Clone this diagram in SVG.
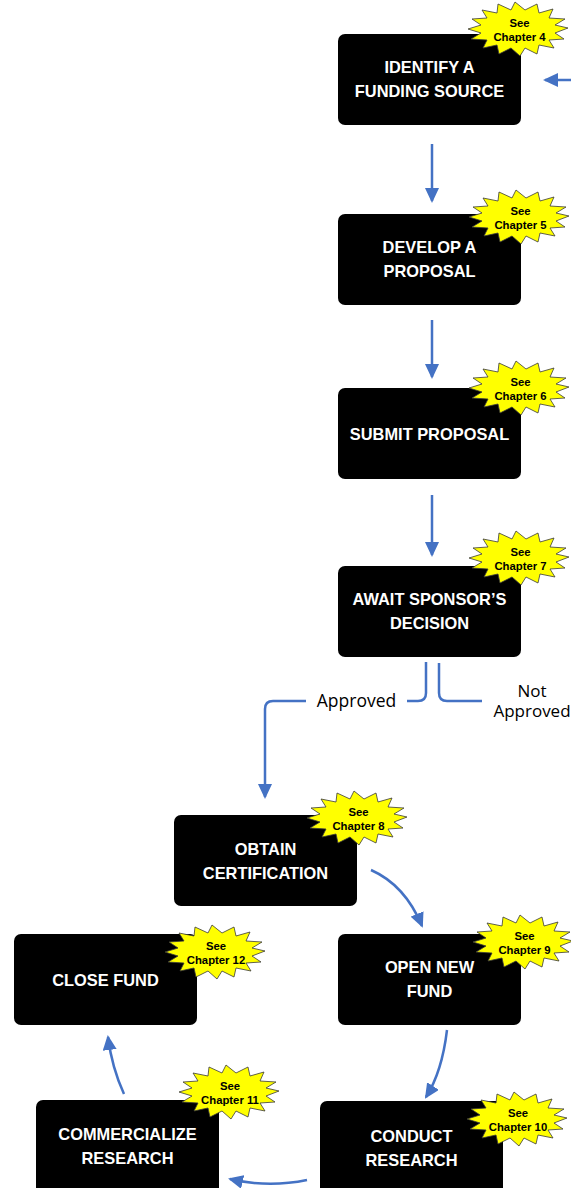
<svg xmlns="http://www.w3.org/2000/svg" xmlns:xlink="http://www.w3.org/1999/xlink" width="571" height="1188" viewBox="0 0 571 1188">
  <style>
    .box { fill: #000000; }
    .label { font-family: "Liberation Sans", Arial, sans-serif; font-weight: bold; font-size: 16.4px; fill: #ffffff; text-anchor: middle; }
    .burst { fill: #ffff00; stroke: #3a3a3a; stroke-width: 0.8; stroke-linejoin: miter; }
    .see { font-family: "Liberation Sans", Arial, sans-serif; font-weight: bold; font-size: 11.3px; fill: #000000; text-anchor: middle; }
    .flow { fill: none; stroke: #4472c4; stroke-width: 2.5; }
    .branch { font-family: "Open Sans", "Noto Sans", sans-serif; font-size: 17.5px; fill: #000000; text-anchor: middle; }
    .branch-sm { font-family: "Open Sans", "Noto Sans", sans-serif; font-size: 17px; fill: #000000; text-anchor: middle; }
  </style>
  <defs>
    <marker id="head" viewBox="0 0 15 14" refX="13" refY="7" markerWidth="15" markerHeight="14" markerUnits="userSpaceOnUse" orient="auto">
      <path d="M0,0 L15,7 L0,14 z" fill="#4472c4"/>
    </marker>
    <!-- spiky starburst used for chapter callouts, centred on 0,0 -->
    <polygon id="star" class="burst" points="50,-1 37,4 46,10 31,11 36,19 21,16 19,25 7,19 2,27 -7,19 -19,25 -21,16 -35,19 -31,11 -47,10 -37,4 -50,0 -37,-4 -46,-10 -31,-11 -36,-19 -21,-16 -20,-25 -7,-19 -3,-27 7,-19 19,-25 21,-16 35,-20 31,-11 47,-10 37,-4"/>
  </defs>

  <!-- connectors -->
  <g id="connectors">
    <path class="flow" d="M573,80 H545" marker-end="url(#head)"/>
    <path class="flow" d="M432,144 V201" marker-end="url(#head)"/>
    <path class="flow" d="M432,320 V377" marker-end="url(#head)"/>
    <path class="flow" d="M432,495 V555" marker-end="url(#head)"/>
    <path class="flow" d="M426,662 V693 Q426,701 418,701 H407"/>
    <path class="flow" d="M306,701 H273 Q265,701 265,709 V797" marker-end="url(#head)"/>
    <path class="flow" d="M439,663 V693 Q439,701 447,701 H482"/>
    <path class="flow" d="M371,870 Q405,885 422,926" marker-end="url(#head)"/>
    <path class="flow" d="M447,1030 Q442,1072 426,1097" marker-end="url(#head)"/>
    <path class="flow" d="M307,1180 Q268,1188 230,1179" marker-end="url(#head)"/>
    <path class="flow" d="M124,1094 Q112,1068 108,1037" marker-end="url(#head)"/>
    <text class="branch" x="356.5" y="707">Approved</text>
    <text class="branch-sm"><tspan x="532" y="697">Not</tspan><tspan x="532" y="717">Approved</tspan></text>
  </g>

  <g id="identify">
    <rect class="box" x="338" y="34" width="183" height="91" rx="7"/>
    <text class="label" x="429.5" y="73">IDENTIFY A</text>
    <text class="label" x="429.5" y="97">FUNDING SOURCE</text>
    <use xlink:href="#star" x="518" y="29"/>
    <text class="see" x="519.5" y="26.5">See</text>
    <text class="see" x="519.5" y="40.5">Chapter 4</text>
  </g>

  <g id="develop">
    <rect class="box" x="338" y="214" width="183" height="91" rx="7"/>
    <text class="label" x="429.5" y="253">DEVELOP A</text>
    <text class="label" x="429.5" y="277">PROPOSAL</text>
    <use xlink:href="#star" x="519" y="217"/>
    <text class="see" x="520.5" y="214.5">See</text>
    <text class="see" x="520.5" y="228.5">Chapter 5</text>
  </g>

  <g id="submit">
    <rect class="box" x="338" y="388" width="183" height="91" rx="7"/>
    <text class="label" x="429.5" y="440">SUBMIT PROPOSAL</text>
    <use xlink:href="#star" x="519" y="388"/>
    <text class="see" x="520.5" y="385.5">See</text>
    <text class="see" x="520.5" y="399.5">Chapter 6</text>
  </g>

  <g id="await">
    <rect class="box" x="338" y="566" width="183" height="91" rx="7"/>
    <text class="label" x="429.5" y="605">AWAIT SPONSOR’S</text>
    <text class="label" x="429.5" y="629">DECISION</text>
    <use xlink:href="#star" x="519" y="558"/>
    <text class="see" x="520.5" y="555.5">See</text>
    <text class="see" x="520.5" y="569.5">Chapter 7</text>
  </g>

  <g id="obtain">
    <rect class="box" x="174" y="815" width="183" height="91" rx="7"/>
    <text class="label" x="265.5" y="855">OBTAIN</text>
    <text class="label" x="265.5" y="879">CERTIFICATION</text>
    <use xlink:href="#star" x="357" y="818"/>
    <text class="see" x="358.5" y="815.5">See</text>
    <text class="see" x="358.5" y="829.5">Chapter 8</text>
  </g>

  <g id="open-fund">
    <rect class="box" x="338" y="934" width="183" height="91" rx="7"/>
    <text class="label" x="429.5" y="973">OPEN NEW</text>
    <text class="label" x="429.5" y="997">FUND</text>
    <use xlink:href="#star" x="523" y="942"/>
    <text class="see" x="524.5" y="939.5">See</text>
    <text class="see" x="524.5" y="953.5">Chapter 9</text>
  </g>

  <g id="close-fund">
    <rect class="box" x="14" y="934" width="183" height="91" rx="7"/>
    <text class="label" x="105.5" y="986">CLOSE FUND</text>
    <use xlink:href="#star" x="215" y="952"/>
    <text class="see" x="216" y="949.5">See</text>
    <text class="see" x="216" y="963.5">Chapter 12</text>
  </g>

  <g id="commercialize">
    <rect class="box" x="36" y="1100" width="183" height="100" rx="7"/>
    <text class="label" x="127.5" y="1140">COMMERCIALIZE</text>
    <text class="label" x="127.5" y="1164">RESEARCH</text>
    <use xlink:href="#star" x="229" y="1092"/>
    <text class="see" x="230" y="1089.5">See</text>
    <text class="see" x="230" y="1103.5">Chapter 11</text>
  </g>

  <g id="conduct">
    <rect class="box" x="320" y="1101" width="183" height="100" rx="7"/>
    <text class="label" x="411.5" y="1142">CONDUCT</text>
    <text class="label" x="411.5" y="1166">RESEARCH</text>
    <use xlink:href="#star" x="517" y="1119"/>
    <text class="see" x="518" y="1116.5">See</text>
    <text class="see" x="518" y="1130.5">Chapter 10</text>
  </g>
</svg>
